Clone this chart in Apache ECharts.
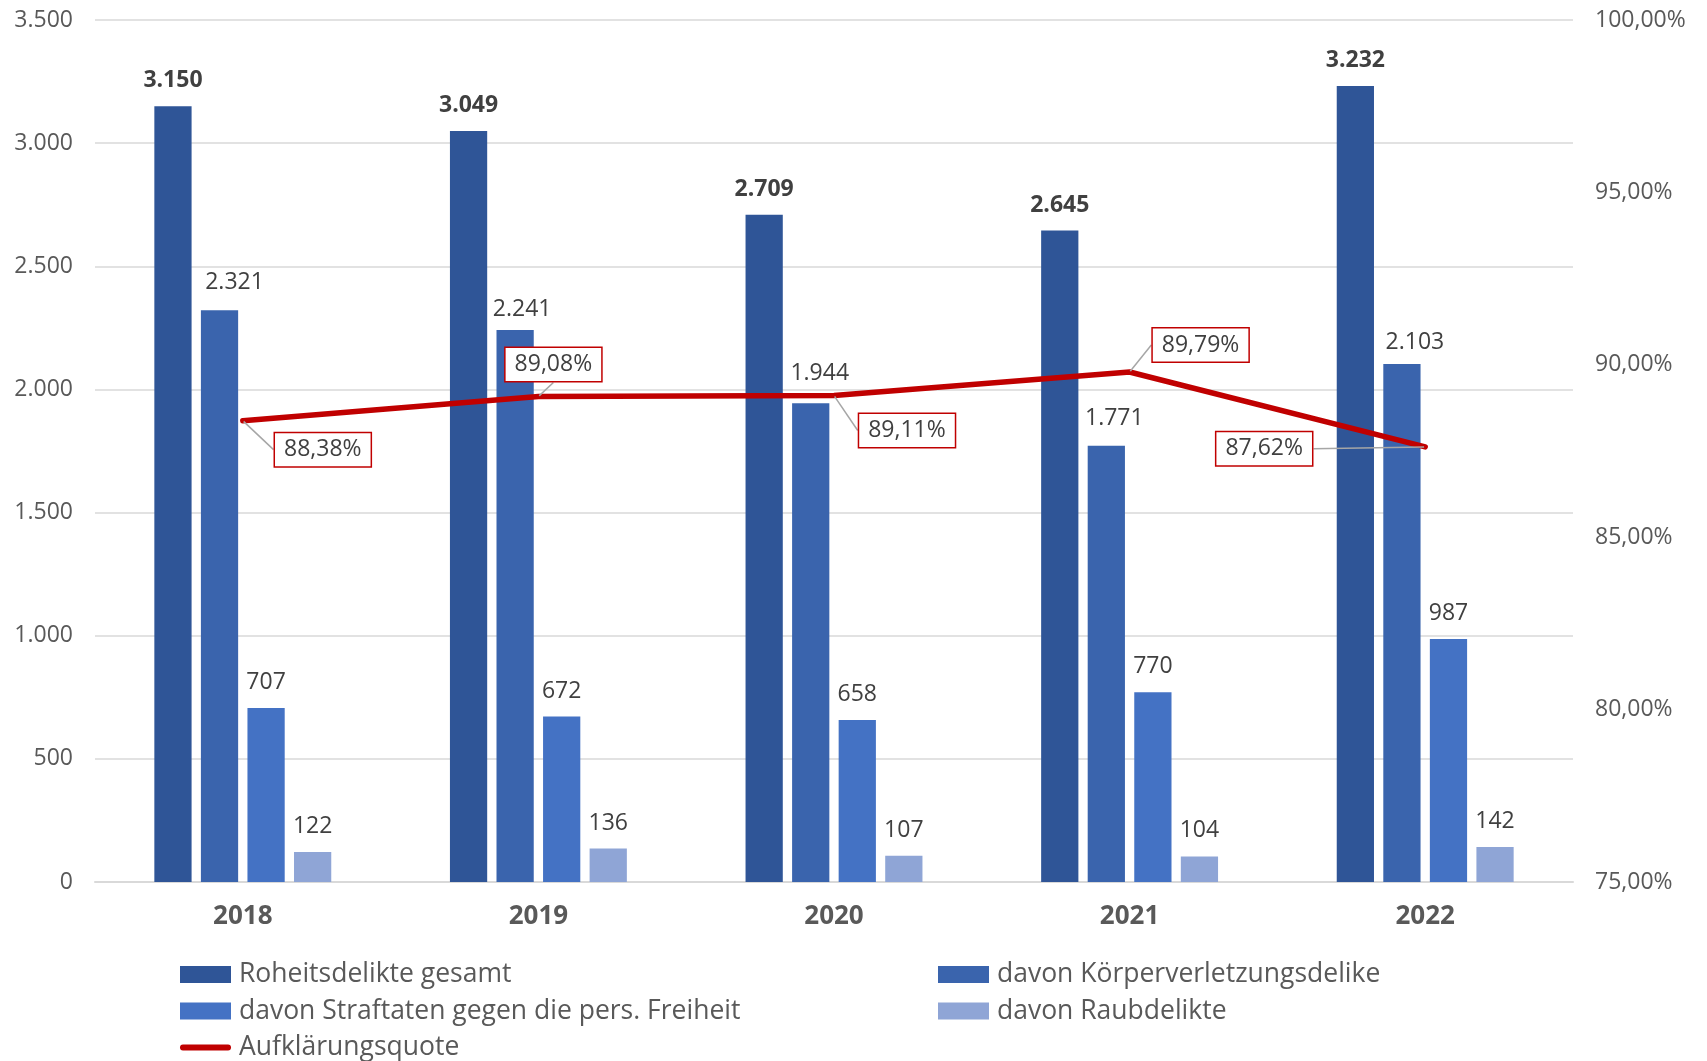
<!DOCTYPE html>
<html>
<head>
<meta charset="utf-8">
<script src="https://cdn.jsdelivr.net/npm/echarts@6/dist/echarts.min.js"></script>
<style>
html,body{margin:0;padding:0;background:#fff;}
#chart{width:1707px;height:1061px;}
</style>
</head>
<body>
<div id="chart"></div>
<script>
const categories = ['2018', '2019', '2020', '2021', '2022'];
const roheitsdelikte = [3150, 3049, 2709, 2645, 3232];
const koerperverletzung = [2321, 2241, 1944, 1771, 2103];
const freiheit = [707, 672, 658, 770, 987];
const raub = [122, 136, 107, 104, 142];
const aufklaerungsquote = [88.38, 89.08, 89.11, 89.79, 87.62];
const leftTicks = [0, 3500, 500];
const rightTicks = [75, 100, 5];

const seriesNames = ['Roheitsdelikte gesamt', 'davon Körperverletzungsdelike', 'davon Straftaten gegen die pers. Freiheit', 'davon Raubdelikte', 'Aufklärungsquote'];

// label placement offsets (style, not data)
const lineLabelOffsets = [[80, 29], [15, -32], [73, 35], [71, -27], [-161, 2]];
const koerperLabelOffsets = [[15, -2], [7, 5], [9, -4], [8, -2], [13, 4]];

const FONT = 'Open Sans';
const TXT = '#404040';
const AX = '#595959';

function thousands(v) {
  return String(v).replace(/\B(?=(\d{3})+(?!\d))/g, '.');
}

const barColors = ['#2F5597', '#3A64AD', '#4472C4', '#8FA5D6'];
const barData = [roheitsdelikte, koerperverletzung, freiheit, raub];

const barSeries = barData.map((d, i) => ({
  name: seriesNames[i],
  type: 'bar',
  data: d.map((v, j) => i === 1
    ? { value: v, label: { offset: koerperLabelOffsets[j] } }
    : v),
  yAxisIndex: 0,
  barWidth: '12.6%',
  barGap: '25%',
  itemStyle: { color: barColors[i] },
  label: {
    show: true,
    position: 'top',
    distance: 14,
    color: TXT,
    fontFamily: FONT,
    fontSize: 23,
    fontWeight: i === 0 ? 'bold' : 'normal',
    formatter: p => thousands(p.value)
  }
}));

const lineSeries = {
  name: seriesNames[4],
  type: 'line',
  yAxisIndex: 1,
  data: aufklaerungsquote,
  symbol: 'circle',
  symbolSize: 2,
  itemStyle: { color: '#C00000' },
  lineStyle: { color: '#C00000', width: 5.5, cap: 'round', join: 'round' },
  z: 10,
  label: {
    show: true,
    position: 'inside',
    color: TXT,
    fontFamily: FONT,
    fontSize: 23,
    backgroundColor: '#fff',
    borderColor: '#C00000',
    borderWidth: 1.5,
    padding: [6, 9, 4, 9],
    formatter: p => p.value.toFixed(2).replace('.', ',') + '%'
  },
  labelLine: { show: true, lineStyle: { color: '#A6A6A6', width: 1.5 } },
  labelLayout: function (params) {
    const o = lineLabelOffsets[params.dataIndex];
    return { dx: o[0], dy: o[1] };
  }
};

const legendText = { color: AX, fontSize: 26.5, fontFamily: FONT, lineHeight: 26, padding: [0, 0, 0, 3] };
const lineIcon = 'path://M3,0 L49,0 A3,3 0 0 1 49,6 L3,6 A3,3 0 0 1 3,0 Z';

const chart = echarts.init(document.getElementById('chart'), null, { renderer: 'canvas' });
chart.setOption({
  animation: false,
  backgroundColor: '#fff',
  textStyle: { fontFamily: FONT },
  grid: { left: 95, right: 134, top: 20, bottom: 179, containLabel: false },
  legend: [
    {
      data: [
        { name: seriesNames[0], icon: 'rect' },
        { name: seriesNames[2], icon: 'rect' },
        { name: seriesNames[4], icon: lineIcon }
      ],
      orient: 'vertical',
      left: 180,
      top: 961,
      padding: 0,
      itemWidth: 51,
      itemHeight: 17,
      itemGap: 9.5,
      textStyle: legendText
    },
    {
      data: [
        { name: seriesNames[1], icon: 'rect' },
        { name: seriesNames[3], icon: 'rect' }
      ],
      orient: 'vertical',
      left: 938,
      top: 961,
      padding: 0,
      itemWidth: 51,
      itemHeight: 17,
      itemGap: 9.5,
      textStyle: legendText
    }
  ],
  xAxis: {
    type: 'category',
    data: categories,
    axisLine: { lineStyle: { color: '#D9D9D9', width: 2 } },
    axisTick: { show: false },
    axisLabel: { color: AX, fontSize: 26, fontWeight: 'bold', fontFamily: FONT, margin: 22 }
  },
  yAxis: [
    {
      type: 'value',
      min: leftTicks[0], max: leftTicks[1], interval: leftTicks[2],
      axisLine: { show: false },
      axisTick: { show: false },
      splitLine: { lineStyle: { color: '#D9D9D9', width: 1.5 } },
      axisLabel: { color: AX, fontSize: 23, fontFamily: FONT, margin: 22, formatter: v => thousands(v) }
    },
    {
      type: 'value',
      min: rightTicks[0], max: rightTicks[1], interval: rightTicks[2],
      axisLine: { show: false },
      axisTick: { show: false },
      splitLine: { show: false },
      axisLabel: { color: AX, fontSize: 23, fontFamily: FONT, margin: 22, formatter: v => v.toFixed(2).replace('.', ',') + '%' }
    }
  ],
  series: [...barSeries, lineSeries]
});
</script>
</body>
</html>
